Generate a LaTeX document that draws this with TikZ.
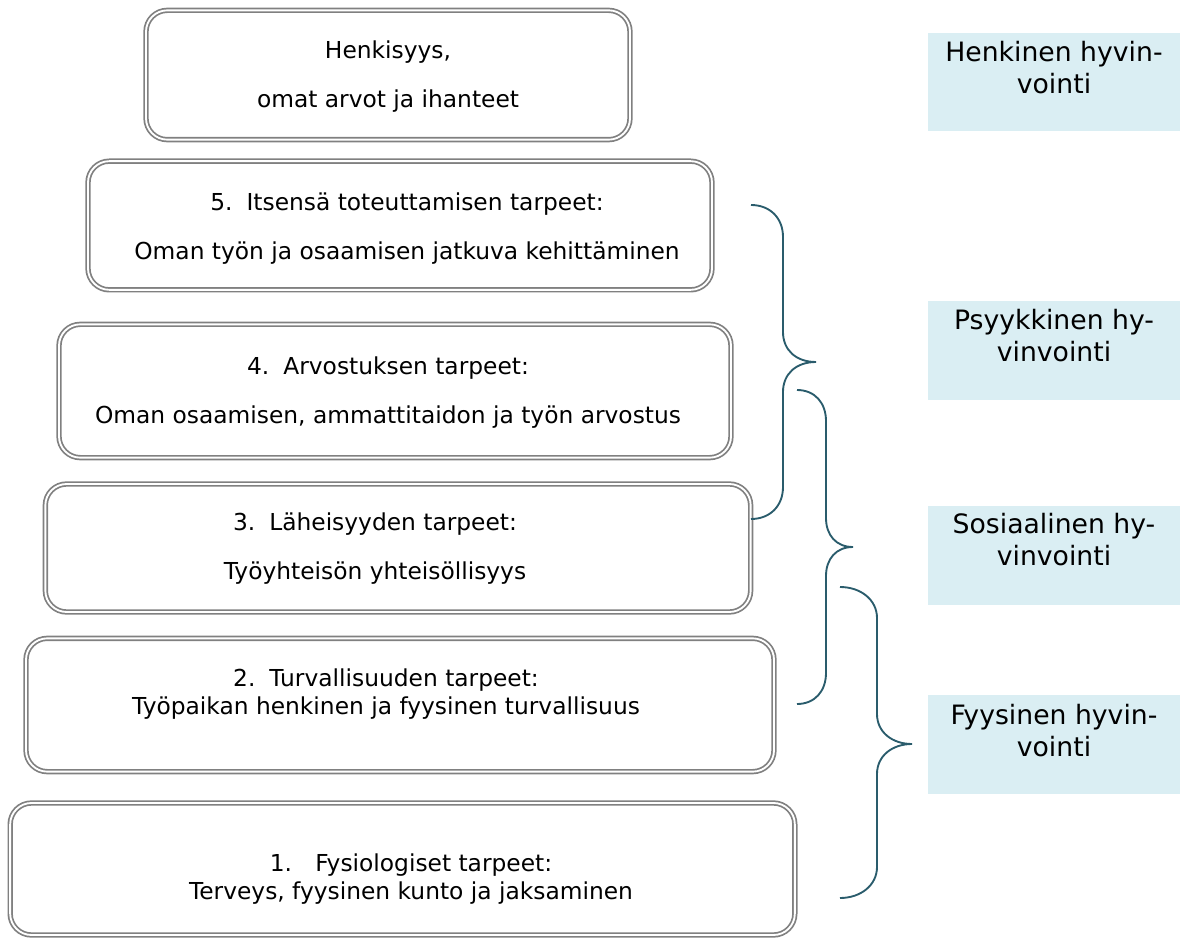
\documentclass[tikz,border=0pt]{standalone}
\usepackage{fontspec}
\setmainfont{DejaVu Sans}
\usepackage{tikz}
\usepackage{xcolor}
\usetikzlibrary{positioning}

\definecolor{boxgray}{RGB}{128,128,128}
\definecolor{bracecol}{RGB}{42,92,108}
\definecolor{wellfill}{RGB}{218,238,243}

\tikzset{
  needbox/.style={draw=boxgray, double=white, double distance=1.4pt, line width=1.3pt, rounded corners=16pt, inner sep=0pt},
  needtext/.style={align=center, inner sep=0pt, font=\fontsize{17.5}{21}\selectfont},
  wellbox/.style={fill=wellfill, minimum width=189pt, minimum height=74pt, inner sep=0pt},
  welltext/.style={align=center, inner sep=0pt, font=\fontsize{20}{24}\selectfont},
  curly/.style={draw=bracecol, line width=1.4pt}
}

\begin{document}
\begin{tikzpicture}[x=0.75pt, y=-0.75pt]
\useasboundingbox (0,0) rectangle (1182,941);

% need levels
\node[needbox, minimum width=363pt, minimum height=97pt] (top) at (388,75) {};
\node[needbox, minimum width=468pt, minimum height=96.5pt] (five) at (400,225.5) {};
\node[needbox, minimum width=504pt, minimum height=100pt] (four) at (395,391) {};
\node[needbox, minimum width=529pt, minimum height=96pt] (three) at (398,548) {};
\node[needbox, minimum width=561pt, minimum height=100pt] (two) at (400,705) {};
\node[needbox, minimum width=588.5pt, minimum height=99pt] (one) at (402.5,869) {};

\node[needtext] (toptxt) at (388,77) {Henkisyys,\\[15.75pt] omat arvot ja ihanteet};
\node[needtext] (fivetxt) at (407,228.5) {5.\hspace{0.6em}Itsensä toteuttamisen tarpeet:\\[15.75pt] Oman työn ja osaamisen jatkuva kehittäminen};
\node[needtext] (fourtxt) at (388,392.5) {4.\hspace{0.6em}Arvostuksen tarpeet:\\[15.75pt] Oman osaamisen, ammattitaidon ja työn arvostus};
\node[needtext] (threetxt) at (375,549) {3.\hspace{0.6em}Läheisyyden tarpeet:\\[15.75pt] Työyhteisön yhteisöllisyys};
\node[needtext] (twotxt) at (386,694) {2.\hspace{0.6em}Turvallisuuden tarpeet:\\ Työpaikan henkinen ja fyysinen turvallisuus};
\node[needtext] (onetxt) at (411,879) {1.\hspace{1em}Fysiologiset tarpeet:\\ Terveys, fyysinen kunto ja jaksaminen};

% wellbeing labels
\node[wellbox] (henk) at (1054,82) {};
\node[wellbox] (psyk) at (1054,350.5) {};
\node[wellbox] (sos) at (1054,555.5) {};
\node[wellbox] (fyys) at (1054,744.5) {};

\node[welltext, below=6.5pt of henk.north] (henktxt) {Henkinen hyvin-\\vointi};
\node[welltext, below=6pt of psyk.north] (psyktxt) {Psyykkinen hy-\\vinvointi};
\node[welltext, below=5.5pt of sos.north] (sostxt) {Sosiaalinen hy-\\vinvointi};
\node[welltext, below=6.5pt of fyys.north] (fyystxt) {Fyysinen hyvin-\\vointi};

% braces
\draw[curly] (751,205) .. controls (770,205) and (783,218) .. (783,237) -- (783,332)
  .. controls (783,350) and (796,362) .. (816,362)
  .. controls (796,362) and (783,374) .. (783,392) -- (783,487)
  .. controls (783,506) and (770,519) .. (751,519);
\draw[curly] (797,390) .. controls (815,390) and (826,403) .. (826,421) -- (826,518)
  .. controls (826,535) and (836,547) .. (853,547)
  .. controls (836,547) and (826,559) .. (826,576) -- (826,673)
  .. controls (826,691) and (815,704) .. (797,704);
\draw[curly] (840,587) .. controls (861,587) and (877,600) .. (877,618) -- (877,714)
  .. controls (877,732) and (892,744) .. (912,744)
  .. controls (892,744) and (877,756) .. (877,774) -- (877,867)
  .. controls (877,885) and (861,898) .. (840,898);
\end{tikzpicture}
\end{document}
